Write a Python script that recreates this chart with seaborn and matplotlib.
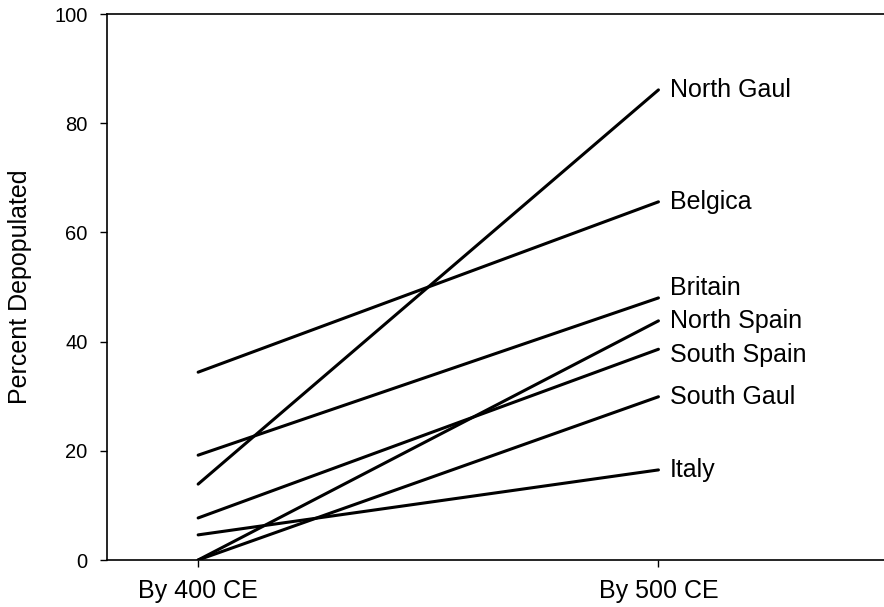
import pandas as pd
import matplotlib
matplotlib.use("Agg")
import matplotlib.pyplot as plt
import seaborn as sns

# values
regions = ["North Gaul", "Belgica", "Britain", "North Spain",
           "South Spain", "South Gaul", "Italy"]
periods = ["By 400 CE", "By 500 CE"]
by_400 = [13.9, 34.4, 19.2, 0.0, 7.7, 0.0, 4.6]
by_500 = [86.1, 65.6, 48.0, 43.8, 38.6, 29.9, 16.5]

df = pd.DataFrame({
    "region": regions * 2,
    "period": [periods[0]] * len(regions) + [periods[1]] * len(regions),
    "pct": by_400 + by_500,
})

sns.set_style("ticks")
plt.rcParams["font.family"] = ["Liberation Sans", "DejaVu Sans"]
plt.rcParams["text.color"] = "black"
plt.rcParams["axes.labelcolor"] = "black"
plt.rcParams["xtick.color"] = "black"
plt.rcParams["ytick.color"] = "black"

fig = plt.figure(figsize=(8.84, 6.07), dpi=100)
ax = fig.add_axes([107 / 884, 1 - 560 / 607, 1 - 107 / 884, (560 - 14) / 607])

sns.lineplot(data=df, x="period", y="pct", hue="region",
             palette=["black"] * len(regions), linewidth=2.2,
             legend=False, sort=False, ax=ax)

ax.set_xlim(-0.198, 1.49)
ax.set_ylim(0, 100)
ax.set_yticks([0, 20, 40, 60, 80, 100])
ax.set_xlabel("")
ax.set_ylabel("Percent Depopulated", fontsize=18, labelpad=16)

ax.tick_params(axis="y", labelsize=14.5, length=5, width=1, pad=9)
ax.tick_params(axis="x", labelsize=18, length=5, width=1, pad=9)

for side in ["left", "bottom", "top"]:
    ax.spines[side].set_linewidth(1.2)
    ax.spines[side].set_color("black")
ax.spines["right"].set_visible(False)

# a few labels nudged so they don't collide
nudge = {"Britain": 7, "South Spain": -4}
for name, val in zip(regions, by_500):
    ax.annotate(name, xy=(1, val), xytext=(8, nudge.get(name, 0)),
                textcoords="offset points", va="center", ha="left",
                fontsize=18, annotation_clip=False)

fig.savefig("out.png", dpi=100)
